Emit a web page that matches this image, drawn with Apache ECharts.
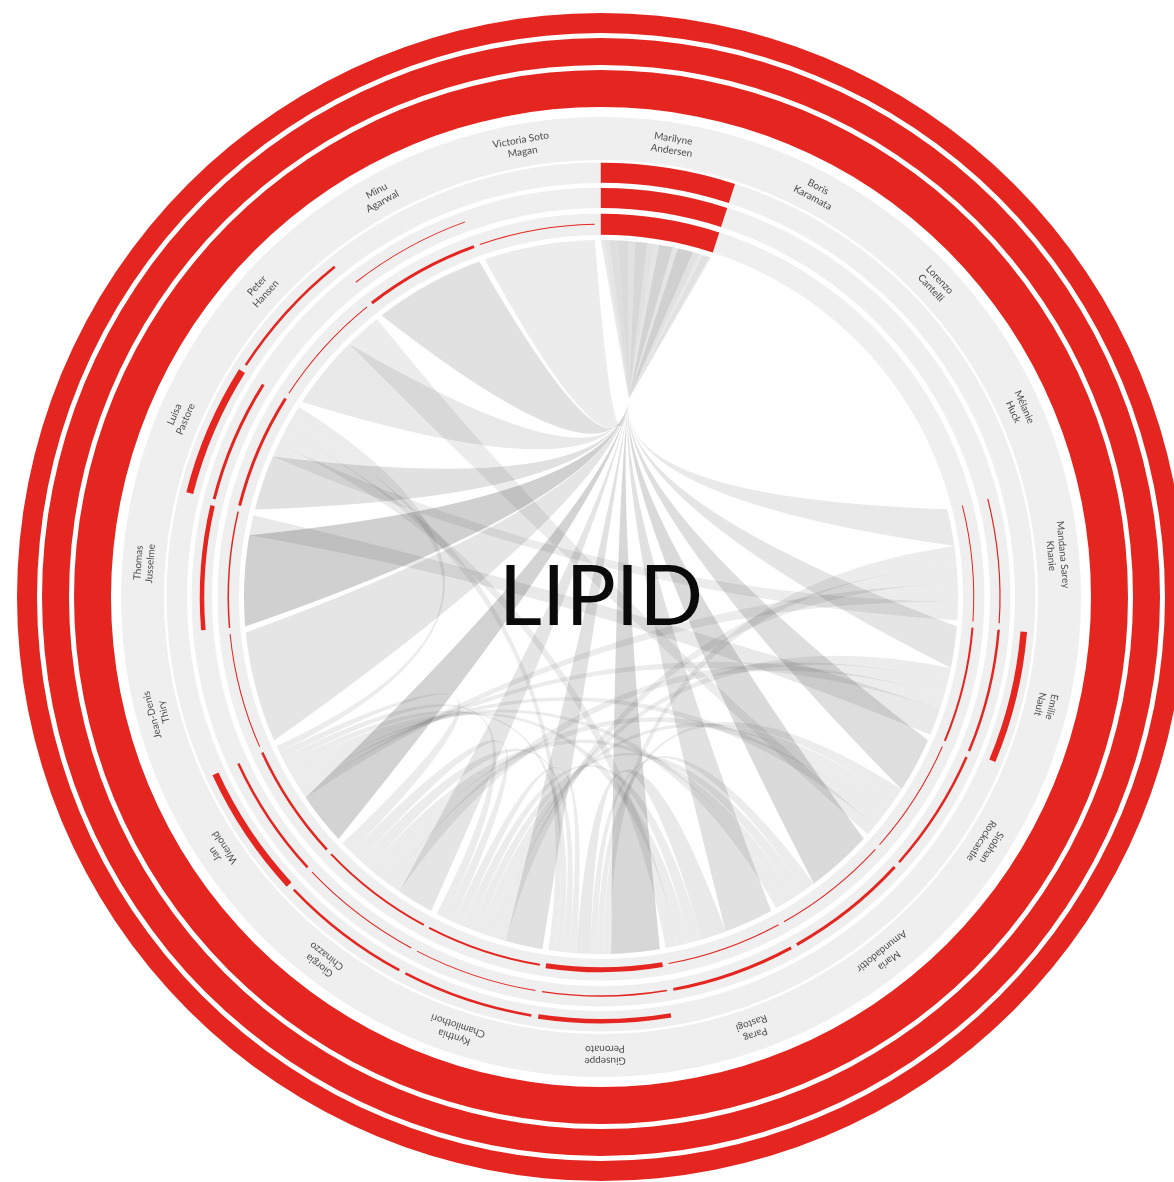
<!DOCTYPE html>
<html>
<head>
<meta charset="utf-8">
<title>LIPID</title>
<script src="https://cdn.jsdelivr.net/npm/echarts@6/dist/echarts.min.js"></script>
<style>
  html, body { margin: 0; padding: 0; background: #fff; }
  #chordchart { width: 1174px; height: 1182px; }
</style>
</head>
<body>
<div id="chordchart"></div>
<script>
// people around the ring, clockwise from the top
const people = [
  'Marilyne Andersen', 'Boris Karamata', 'Lorenzo Cantelli', 'Mélanie Huck',
  'Mandana Sarey Khanie', 'Emilie Nault', 'Siobhan Rockcastle', 'María Amundadottir',
  'Parag Rastogi', 'Giuseppe Peronato', 'Kynthia Chamilothori', 'Giorgia Chinazzo',
  'Jan Wienold', 'Jean-Denis Thiry', 'Thomas Jusselme', 'Luisa Pastore',
  'Peter Hansen', 'Minu Agarwal', 'Victoria Soto Magan'
];

// red arc thickness in the three tracks (outer, middle, inner)
const outerTrack  = [20, 0, 0, 0, 0,   6.5, 0,   0, 0, 4.5, 2.5, 2.5, 6.5, 0, 0,   7, 2.5, 0, 0];
const middleTrack = [20, 0, 0, 0, 1.2, 2.5, 2.5, 3, 3, 1.5, 1,   1,   2.5, 0, 4.5, 3, 0,   1, 0];
const innerTrack  = [21, 0, 0, 0, 1,   2,   1,   1, 1, 5,   2,   2,   2.5, 1, 1.5, 3, 1,   3, 1];

// collaborations: [person, person, weight]
const links = [
  ['Marilyne Andersen', 'Mandana Sarey Khanie', 2],
  ['Marilyne Andersen', 'Emilie Nault', 3],
  ['Marilyne Andersen', 'Siobhan Rockcastle', 5],
  ['Marilyne Andersen', 'María Amundadottir', 6],
  ['Marilyne Andersen', 'Parag Rastogi', 4],
  ['Marilyne Andersen', 'Giuseppe Peronato', 7],
  ['Marilyne Andersen', 'Kynthia Chamilothori', 4],
  ['Marilyne Andersen', 'Giorgia Chinazzo', 3],
  ['Marilyne Andersen', 'Jan Wienold', 8],
  ['Marilyne Andersen', 'Jean-Denis Thiry', 3],
  ['Marilyne Andersen', 'Thomas Jusselme', 9],
  ['Marilyne Andersen', 'Luisa Pastore', 4],
  ['Marilyne Andersen', 'Peter Hansen', 2],
  ['Marilyne Andersen', 'Minu Agarwal', 4],
  ['Marilyne Andersen', 'Victoria Soto Magan', 1],
  ['Giuseppe Peronato', 'Kynthia Chamilothori', 1],
  ['Giuseppe Peronato', 'Parag Rastogi', 2],
  ['Giuseppe Peronato', 'María Amundadottir', 1],
  ['Giuseppe Peronato', 'Jan Wienold', 1],
  ['Giuseppe Peronato', 'Giorgia Chinazzo', 1],
  ['Kynthia Chamilothori', 'Giorgia Chinazzo', 1],
  ['Kynthia Chamilothori', 'Jan Wienold', 1],
  ['Kynthia Chamilothori', 'Parag Rastogi', 1],
  ['Giorgia Chinazzo', 'Jan Wienold', 1],
  ['Giorgia Chinazzo', 'María Amundadottir', 1],
  ['Jan Wienold', 'Siobhan Rockcastle', 1],
  ['Jan Wienold', 'Emilie Nault', 1],
  ['Jan Wienold', 'Parag Rastogi', 1],
  ['Kynthia Chamilothori', 'Siobhan Rockcastle', 1],
  ['María Amundadottir', 'Kynthia Chamilothori', 1],
  ['Siobhan Rockcastle', 'Giuseppe Peronato', 1],
  ['Emilie Nault', 'Thomas Jusselme', 2],
  ['Emilie Nault', 'Kynthia Chamilothori', 1],
  ['Mandana Sarey Khanie', 'Luisa Pastore', 1],
  ['Mandana Sarey Khanie', 'Giuseppe Peronato', 1],
  ['Mandana Sarey Khanie', 'Kynthia Chamilothori', 1],
  ['Mandana Sarey Khanie', 'Jan Wienold', 1],
  ['Parag Rastogi', 'Luisa Pastore', 1],
  ['Peter Hansen', 'Siobhan Rockcastle', 1],
  ['Luisa Pastore', 'Jan Wienold', 1],
  ['Luisa Pastore', 'Giuseppe Peronato', 1],
  ['Emilie Nault', 'Giorgia Chinazzo', 1],
  ['María Amundadottir', 'Jan Wienold', 1],
  ['Siobhan Rockcastle', 'Giorgia Chinazzo', 1]
];

const N = people.length;
const CX = 601, CY = 597;
const START = 90.5;
const CHORD_R = 357;
const LABEL_R = 458;
const TRACK_MID = [372.75, 399, 424.2];   // inner, middle, outer
const PAD = 0.025;                        // gap at each side of a person, in category units
const HUB = 0;
const PINCH_R = 200, BEND_R = 100, HUB_AT = 0.45;

const idx = name => people.indexOf(name);
const linkIdx = links.map(l => [idx(l[0]), idx(l[1]), l[2]]);

// split every person's arc among their links, ordered by the other person's index
const ends = linkIdx.map(() => ({}));
const byNode = people.map(() => []);
linkIdx.forEach((l, k) => { byNode[l[0]].push(k); byNode[l[1]].push(k); });
byNode.forEach((ks, i) => {
  const total = ks.reduce((s, k) => s + linkIdx[k][2], 0);
  const other = k => (linkIdx[k][0] === i ? linkIdx[k][1] : linkIdx[k][0]);
  ks.sort((p, q) => other(p) - other(q));
  let a = i + PAD;
  ks.forEach(k => {
    const w = linkIdx[k][2] / total * (1 - 2 * PAD);
    ends[k][i] = [a, a + w];
    a += w;
  });
});

const pt = p => p[0].toFixed(1) + ' ' + p[1].toFixed(1);
function arcPts(api, a0, a1) {
  const steps = Math.max(2, Math.ceil((a1 - a0) * 30));
  const out = [];
  for (let s = 0; s <= steps; s++) out.push(api.coord([CHORD_R, a0 + (a1 - a0) * s / steps]));
  return out;
}
const lineTo = pts => pts.map(p => ' L' + pt(p)).join('');

function renderRibbon(params, api) {
  const k = params.dataIndex;
  const [s, t, v] = linkIdx[k];
  let d;
  if (s === HUB || t === HUB) {
    const o = s === HUB ? t : s;
    const m = arcPts(api, ends[k][HUB][0], ends[k][HUB][1]);
    const oa = arcPts(api, ends[k][o][0], ends[k][o][1]);
    const P = api.coord([PINCH_R, HUB_AT]);
    const Q = api.coord([BEND_R, HUB_AT]);
    d = 'M' + pt(m[0]) + lineTo(m.slice(1)) + ' L' + pt(P) +
      ' Q' + pt(Q) + ' ' + pt(oa[0]) + lineTo(oa.slice(1)) +
      ' Q' + pt(Q) + ' ' + pt(P) + ' Z';
  } else {
    const sa = arcPts(api, ends[k][s][0], ends[k][s][1]);
    const ta = arcPts(api, ends[k][t][0], ends[k][t][1]);
    const C = api.coord([0, 0]);
    d = 'M' + pt(sa[0]) + lineTo(sa.slice(1)) +
      ' Q' + pt(C) + ' ' + pt(ta[0]) + lineTo(ta.slice(1)) +
      ' Q' + pt(C) + ' ' + pt(sa[0]) + ' Z';
  }
  const alpha = Math.min(0.06 + 0.014 * v, 0.19);
  return { type: 'path', shape: { pathData: d }, style: { fill: 'rgba(0,0,0,' + alpha.toFixed(3) + ')' } };
}

// a full ring drawn as a one-slice pie
function ring(r0, r1, color) {
  return {
    type: 'pie', center: [CX, CY], radius: [r0, r1], silent: true, z: 1,
    startAngle: 90, label: { show: false }, labelLine: { show: false },
    itemStyle: { color: color, borderWidth: 0 }, emphasis: { disabled: true },
    data: [{ value: 1 }]
  };
}

// stacked polar bars: transparent spacer + red arc for each track
const tracks = [innerTrack, middleTrack, outerTrack];
const barSeries = [];
let prevEnd = people.map(() => 0);
tracks.forEach((vals, k) => {
  barSeries.push({
    type: 'bar', coordinateSystem: 'polar', polarIndex: 0, stack: 'tracks', silent: true, z: 3,
    barCategoryGap: '5%', itemStyle: { color: 'rgba(0,0,0,0)' },
    data: vals.map((v, i) => TRACK_MID[k] - v / 2 - prevEnd[i])
  });
  barSeries.push({
    type: 'bar', coordinateSystem: 'polar', polarIndex: 0, stack: 'tracks', silent: true, z: 3,
    barCategoryGap: '5%', itemStyle: { color: '#e42520' },
    data: vals.slice()
  });
  prevEnd = vals.map(v => TRACK_MID[k] + v / 2);
});

const centerAngle = i => (i + 0.5) * 360 / N - (START - 90);
const splitName = name => {
  const cut = name.lastIndexOf(' ');
  return name.slice(0, cut) + '\n' + name.slice(cut + 1);
};

const hiddenAxis = { show: false };
const myChart = echarts.init(document.getElementById('chordchart'));

const option = {
  animation: false,
  polar: [
    { center: [CX, CY], radius: 584 },
    { center: [CX, CY], radius: 584 }
  ],
  angleAxis: [
    Object.assign({ polarIndex: 0, type: 'category', data: people, startAngle: START, clockwise: true }, hiddenAxis),
    Object.assign({ polarIndex: 1, type: 'value', min: 0, max: N, startAngle: START, clockwise: true }, hiddenAxis)
  ],
  radiusAxis: [
    Object.assign({ polarIndex: 0, type: 'value', min: 0, max: 584 }, hiddenAxis),
    Object.assign({ polarIndex: 1, type: 'value', min: 0, max: 584 }, hiddenAxis)
  ],
  graphic: [{
    type: 'text', x: CX, y: 598, z: 100, silent: true,
    style: { text: 'LIPID', fontFamily: 'Lato', fontSize: 84, fill: '#0a0a0a', align: 'center', verticalAlign: 'middle' }
  }],
  series: [
    ring(564, 584, '#e42520'),
    ring(532, 559, '#e42520'),
    ring(490, 527, '#e42520'),
    ring(437, 480, '#efefef'),
    ring(414, 434.5, '#efefef'),
    ring(389, 409.5, '#efefef'),
    ring(362, 383.5, '#efefef'),
    ...barSeries,
    {
      type: 'custom', coordinateSystem: 'polar', polarIndex: 1, silent: true, z: 2,
      renderItem: renderRibbon,
      data: linkIdx.map(l => [l[2], l[0] + 0.5])
    },
    {
      type: 'scatter', coordinateSystem: 'polar', polarIndex: 0, symbolSize: 0, silent: true, z: 4,
      label: {
        show: true, position: 'inside', formatter: p => splitName(p.name),
        fontFamily: 'Lato', fontSize: 10, lineHeight: 12, color: '#222', align: 'center', verticalAlign: 'middle'
      },
      data: people.map((name, i) => ({ name: name, value: [LABEL_R, i], label: { rotate: -centerAngle(i) } }))
    }
  ]
};

myChart.setOption(option);
</script>
</body>
</html>
